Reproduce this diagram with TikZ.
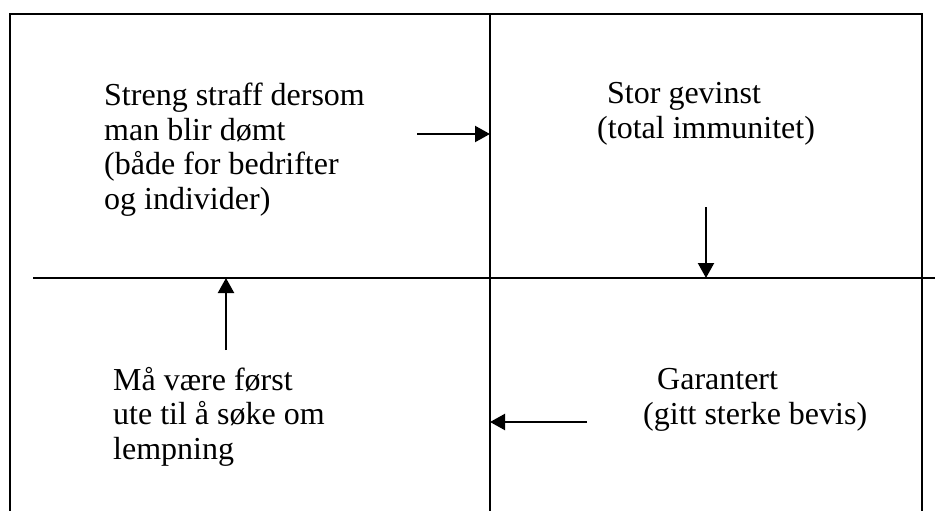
\documentclass[tikz,border=0pt]{standalone}
\usepackage{fontspec}
\setmainfont{Liberation Serif}
\usetikzlibrary{arrows.meta}

\begin{document}
\begin{tikzpicture}[x=1pt,y=-1pt,
	rule/.style={line width=1.8pt},
	pil/.style={line width=2.2pt,-{Triangle[length=15pt,width=16pt]}},
	tekst/.style={anchor=base west,inner sep=0pt,align=left,font=\fontsize{32}{34.5}\selectfont}]
				%%%%% START %%%%%
				\def\xl{10}
				\def\xr{922}
				\def\xm{490}
				\def\yt{14}
				\def\ym{278}
				\def\yb{511}

				\useasboundingbox (0,0) rectangle (935,511);

				% rammen
				\draw[rule] (\xl,\yb) -- (\xl,\yt) -- (\xr,\yt) -- (\xr,\yb);
				\draw[rule] (\xm,\yt) -- (\xm,\yb);
				\draw[rule] (33,\ym) -- (935,\ym);

				% tekstene (base = siste linje)
				\node[tekst] (straff) at (104,209) {Streng straff dersom\\man blir dømt\\(både for bedrifter\\og individer)};
				\node[tekst] (gevinst) at (597,138) {\hspace*{10pt}Stor gevinst\\(total immunitet)};
				\node[tekst] (garantert) at (643,424) {\hspace*{14pt}Garantert\\(gitt sterke bevis)};
				\node[tekst] (forst) at (113,459) {Må være først\\ute til å søke om\\lempning};

				% pilene
				\coordinate (p1a) at (417,134);
				\coordinate (p1b) at (\xm,134);
				\coordinate (p2a) at (706,207);
				\coordinate (p2b) at (706,\ym);
				\coordinate (p3a) at (587,422);
				\coordinate (p3b) at (\xm,422);
				\coordinate (p4a) at (226,350);
				\coordinate (p4b) at (226,\ym);

				\draw[pil] (p1a) -- (p1b);
				\draw[pil] (p2a) -- (p2b);
				\draw[pil] (p3a) -- (p3b);
				\draw[pil] (p4a) -- (p4b);
				%%%%% START %%%%%
			\end{tikzpicture}
\end{document}
